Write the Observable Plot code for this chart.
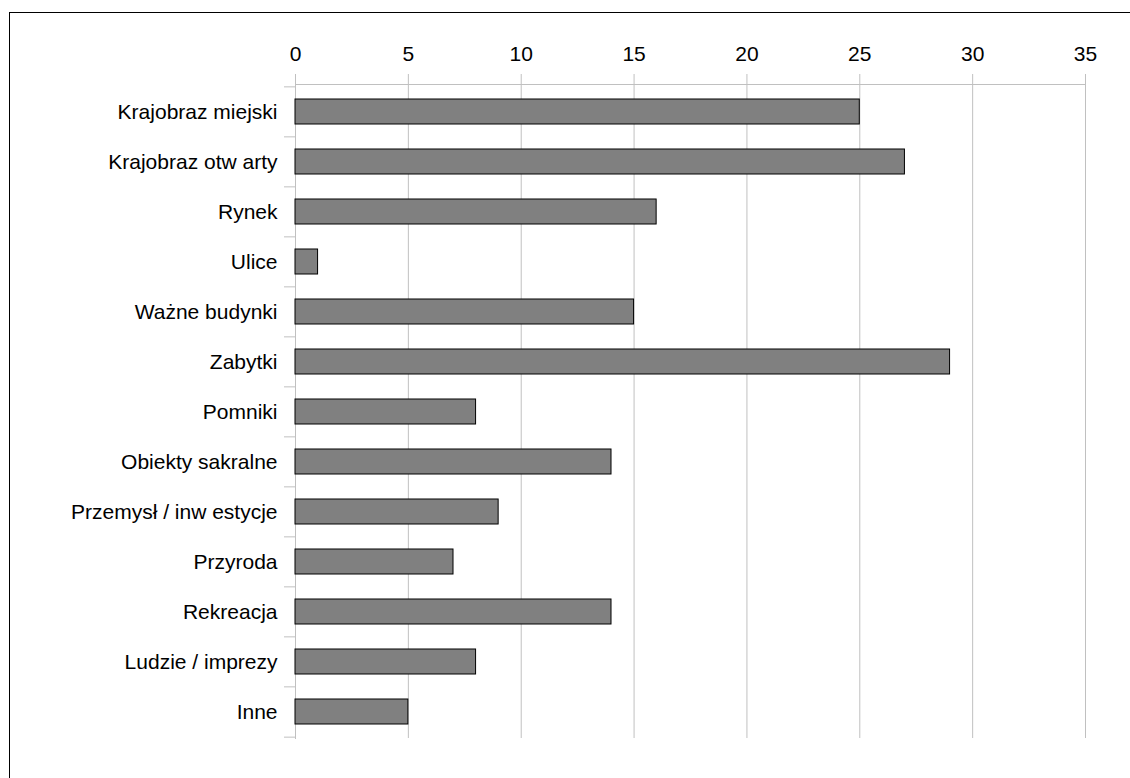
<!DOCTYPE html>
<html>
<head>
<meta charset="utf-8">
<script src="https://cdn.jsdelivr.net/npm/d3@7"></script>
<script src="https://cdn.jsdelivr.net/npm/@observablehq/plot@0.6"></script>
<style>
  html, body { margin: 0; padding: 0; background: #fff; }
  #wrap { position: relative; width: 1130px; height: 778px; overflow: hidden; }
  #frame { position: absolute; left: 9px; top: 12px; width: 1200px; height: 900px;
           border-left: 1px solid #000; border-top: 1px solid #000; pointer-events: none; }
  #chart svg { display: block; }
</style>
</head>
<body>
<div id="wrap">
  <div id="chart"></div>
  <div id="frame"></div>
</div>
<script>
const categories = [
  "Krajobraz miejski",
  "Krajobraz otw arty",
  "Rynek",
  "Ulice",
  "Ważne budynki",
  "Zabytki",
  "Pomniki",
  "Obiekty sakralne",
  "Przemysł / inw estycje",
  "Przyroda",
  "Rekreacja",
  "Ludzie / imprezy",
  "Inne"
];
const values = [25, 27, 16, 1, 15, 29, 8, 14, 9, 7, 14, 8, 5];
const xTicks = [0, 5, 10, 15, 20, 25, 30, 35];

const data = categories.map((c, i) => ({category: c, value: values[i]}));

const W = 1130, H = 778;
const mTop = 84, mBottom = 40, mLeft = 295, mRight = 45;
const step = (H - mTop - mBottom) / categories.length;
const grid = "#c0c0c0";

const chart = Plot.plot({
  width: W,
  height: H,
  marginTop: mTop,
  marginBottom: mBottom,
  marginLeft: mLeft,
  marginRight: mRight,
  style: {fontFamily: "'Liberation Sans', Arial, sans-serif", fontSize: "21px", color: "#000", background: "#fff"},
  x: {domain: [0, 35], axis: null, label: null},
  y: {domain: categories, paddingInner: 0.5, paddingOuter: 0.25, axis: null, label: null},
  marks: [
    Plot.ruleX(xTicks, {stroke: grid, strokeWidth: 1}),
    Plot.frame({anchor: "top", stroke: grid}),
    Plot.frame({anchor: "left", stroke: grid}),
    Plot.axisX(xTicks, {anchor: "top", label: null, tickSize: 11, tickPadding: 13, stroke: grid, fill: "#000", fontSize: 21, tickFormat: d => String(d)}),
    Plot.ruleY(categories, {y: d => d, x1: 0, x2: 0, insetLeft: -11, dy: -step / 2, stroke: grid}),
    Plot.ruleY(categories.slice(-1), {y: d => d, x1: 0, x2: 0, insetLeft: -11, dy: step / 2, stroke: grid}),
    Plot.axisY({anchor: "left", label: null, tickSize: 0, tickPadding: 18, fill: "#000", fontSize: 21}),
    Plot.barX(data, {y: "category", x: "value", fill: "#808080", stroke: "#000", strokeWidth: 1})
  ]
});
document.getElementById("chart").appendChild(chart);
</script>
</body>
</html>
